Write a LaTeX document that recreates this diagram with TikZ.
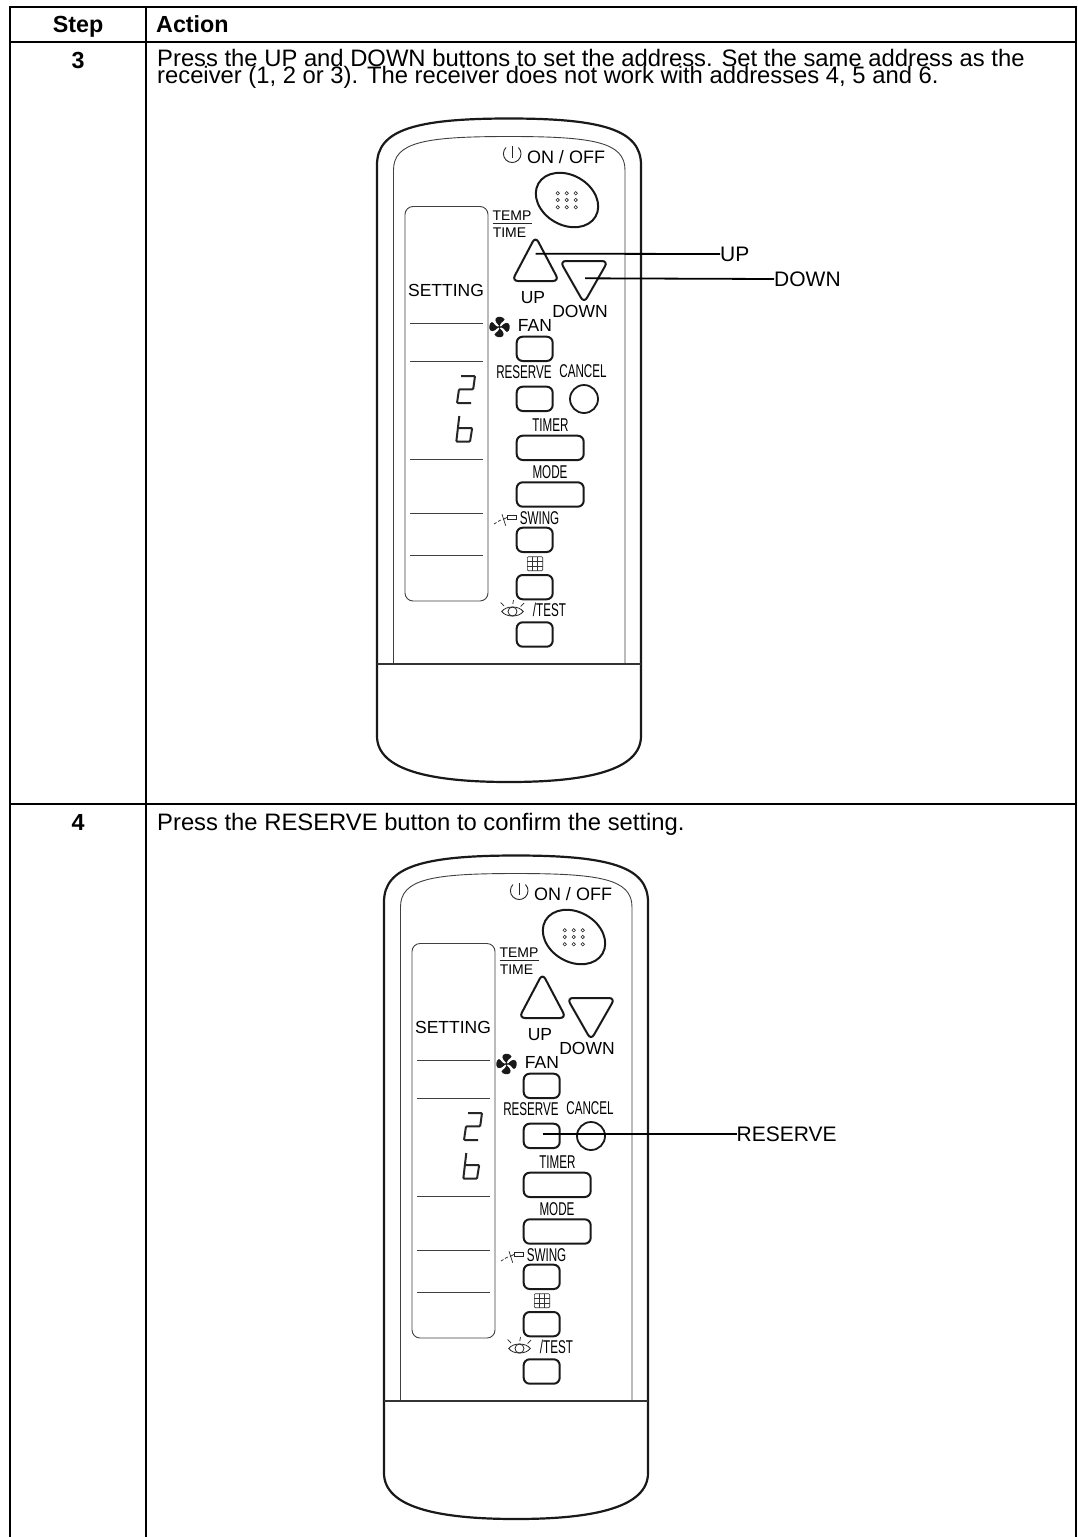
\documentclass[tikz,border=0pt]{standalone}
\usepackage{fontspec}
\setmainfont{Liberation Sans}
\newfontfamily\condfont[FakeStretch=0.63]{Liberation Sans}
\newcommand{\fsz}[1]{\fontsize{#1}{#1}\selectfont}
\lineskiplimit=-100pt
\tikzset{
  x=1pt,y=-1pt,
  grid line/.style={line width=2pt,black},
  bodytext/.style={inner sep=0pt,anchor=base west,align=left,font=\fontsize{23.8}{17}\selectfont},
  headtext/.style={inner sep=0pt,anchor=base,font=\fontsize{23.3}{23.3}\selectfont\bfseries},
  lbl/.style={inner sep=0pt,font=\fsz{17.5}},
  small/.style={inner sep=0pt,font=\fsz{14}},
  cond/.style={inner sep=0pt,font=\condfont\fsz{18.5}},
  callout/.style={inner sep=0pt,anchor=west,font=\fsz{21}},
  outerline/.style={line width=2.2pt,black!90},
  thinline/.style={line width=0.9pt,black!75},
  btn/.style={line width=2pt,black!90,rounded corners=6pt},
  leader/.style={line width=1.8pt,black},
  seg/.style={line width=2pt,black!85,rounded corners=1pt},
  icon/.style={line width=0.7pt,black!85},
}
\newcommand{\remotedraw}{%
  % body
  \draw[outerline] (377,736) -- (377,165) .. controls (377,130) and (415,118.5) .. (509,118.5)
     .. controls (603,118.5) and (641,130) .. (641,165) -- (641,736)
     .. controls (641,770) and (588,782) .. (509,782)
     .. controls (430,782) and (377,770) .. (377,736) -- cycle;
  \draw[thinline] (393.5,664) -- (393.5,170) .. controls (393.5,142) and (425,136.5) .. (509,136.5)
     .. controls (593,136.5) and (625,142) .. (625,170) -- (625,664);
  \draw[line width=1.1pt,black!80] (377,664) -- (641,664);
  % display
  \draw[thinline,rounded corners=8pt] (405,206.5) rectangle (488,601);
  \foreach \yy in {323.5,361.7,459,513,555}
    \draw[thinline] (410,\yy) -- (483,\yy);
  \node[lbl,inner sep=0pt] (setting) at (446,290) {SETTING};
  % seven segment digits
  \draw[seg] (461,376) -- (475,376) -- (473.2,389.3) -- (459,389.3) -- (457,403) -- (471,403);
  \draw[seg] (459.3,416) -- (456.3,441.7) -- (470,441.7) -- (472.2,428) -- (458,428);
  % power
  \draw[line width=0.9pt,black!85] (506,147.5) arc[start angle=225,end angle=-45,radius=8.8];
  \draw[line width=0.9pt,black!85] (512,146) -- (512,158);
  \node[inner sep=0pt,font=\fsz{18}] (onoff) at (566,157) {ON / OFF};
  % on/off button
  \draw[line width=2pt,black!90] (567,200) ellipse[x radius=33,y radius=25,rotate=-30];
  \foreach \xx in {557.7,566.7,575.7}
    \foreach \yy in {193.3,200,207.3}
      \draw[line width=0.6pt,black!85] (\xx,\yy) circle[radius=1.7];
  % temp / time
  \node[small] (temp) at (512,215.7) {TEMP};
  \draw[line width=1pt,black!85] (492.7,223.3) -- (531.7,223.3);
  \node[small] (time) at (509.5,233) {TIME};
  % triangles
  \draw[line width=2pt,black!90,rounded corners=6pt] (535.5,236.5) -- (559,281) -- (512,281) -- cycle;
  \draw[line width=2pt,black!90,rounded corners=6pt] (560,261) -- (608,261) -- (584,303) -- cycle;
  \node[lbl] (uplbl) at (533,298) {UP};
  \node[lbl] (downlbl) at (580,311.7) {DOWN};
  % fan
  \begin{scope}[shift={(499.5,327)}]
    \foreach \aa in {0,90,180,270}
      \fill[black!90,rotate=\aa] (0,-1) .. controls (-2,-3) and (-5.5,-6) .. (-3.5,-9)
         .. controls (-1.5,-11) and (4,-10.5) .. (5,-7.5)
         .. controls (5.5,-6) and (2.5,-6) .. (1.5,-4)
         .. controls (1,-3) and (1,-2) .. (0,-1) -- cycle;
    \fill[black!90] (0,0) circle[radius=1.6];
  \end{scope}
  \node[lbl] (fanlbl) at (535,325.7) {FAN};
  \draw[btn] (516.7,336.7) rectangle (552.7,361);
  % reserve / cancel
  \node[cond] (reslbl) at (524,372) {RESERVE};
  \node[cond] (canlbl) at (583,371) {CANCEL};
  \draw[btn] (516.7,386.7) rectangle (552.7,411);
  \draw[line width=1.8pt,black!90] (584,399) circle[radius=14];
  % timer / mode
  \node[cond] (timerlbl) at (550.5,425) {TIMER};
  \draw[btn] (516.7,435.7) rectangle (583.7,460);
  \node[cond] (modelbl) at (550,472) {MODE};
  \draw[btn] (516.7,482.3) rectangle (583.7,506.7);
  % swing
  \draw[icon] (494,524) -- (496.5,522.5) (498,521.5) -- (500.7,520);
  \draw[icon] (502,514.3) -- (505.7,525.7);
  \draw[icon] (503,519.5) -- (507.3,517.3);
  \draw[icon] (507.3,515) rectangle (516,519.3);
  \node[cond] (swinglbl) at (539.5,518) {SWING};
  \draw[btn] (516.7,527.7) rectangle (552.7,552);
  % filter
  \draw[line width=0.6pt,black!80,rounded corners=1pt] (527.3,556.7) rectangle (542.7,570.7);
  \foreach \xx in {532.4,537.6} \draw[line width=0.6pt,black!80] (\xx,556.7) -- (\xx,570.7);
  \foreach \yy in {561.4,566} \draw[line width=0.6pt,black!80] (527.3,\yy) -- (542.7,\yy);
  \draw[btn] (516.7,575) rectangle (552.7,599.3);
  % eye / test
  \draw[line width=0.8pt,black!85] (501.7,611.5) .. controls (506,605.5) and (519,605.5) .. (523.3,611.5)
      .. controls (519,617.5) and (506,617.5) .. (501.7,611.5) -- cycle;
  \draw[line width=0.8pt,black!85] (512.5,611.5) circle[radius=4.5];
  \draw[icon] (500.7,602.5) -- (504,606) (513.5,600) -- (512.8,604) (524,603) -- (520.7,606.5);
  \node[cond] (testlbl) at (549.5,610) {/TEST};
  \draw[btn] (516.7,622.3) rectangle (552.7,646.7);
}
\begin{document}
\begin{tikzpicture}
\useasboundingbox (0,0) rectangle (1077,1537);
\fill[white] (0,0) rectangle (1077,1537);
% table
\draw[grid line] (10,6.5) -- (1076,6.5);
\draw[grid line] (10,41.5) -- (1076,41.5);
\draw[grid line] (10,804) -- (1076,804);
\draw[grid line] (10,5.5) -- (10,1537);
\draw[grid line] (146,5.5) -- (146,1537);
\draw[grid line] (1075.5,5.5) -- (1075.5,1537);
\node[headtext] (hstep) at (78,32) {Step};
\node[headtext,anchor=base west] (haction) at (156,32) {Action};
\node[headtext] (n3) at (78,68.5) {3};
\node[headtext] (n4) at (78,830.5) {4};
\node[bodytext] (t3) at (157,83) {Press the UP and DOWN buttons to set the address. Set the same address as the\\receiver (1, 2 or 3). The receiver does not work with addresses 4, 5 and 6.};
\node[bodytext] (t4) at (157,830) {Press the RESERVE button to confirm the setting.};
% remotes
\begin{scope}[name prefix=a-]
  \remotedraw
  \coordinate (upbtn) at (535.7,253.7);
  \coordinate (downbtn) at (585,278.3);
\end{scope}
\begin{scope}[name prefix=b-,shift={(7,737)}]
  \remotedraw
  \coordinate (resbtn) at (536.3,397);
\end{scope}
% callouts
\node[callout] (cup) at (720,254) {UP};
\node[callout] (cdown) at (774,279) {DOWN};
\node[callout] (cres) at (736.5,1134) {RESERVE};
\draw[leader] (a-upbtn) -- (cup.west);
\draw[leader] (a-downbtn) -- (cdown.west);
\draw[leader] (b-resbtn) -- (cres.west);
\end{tikzpicture}
\end{document}
